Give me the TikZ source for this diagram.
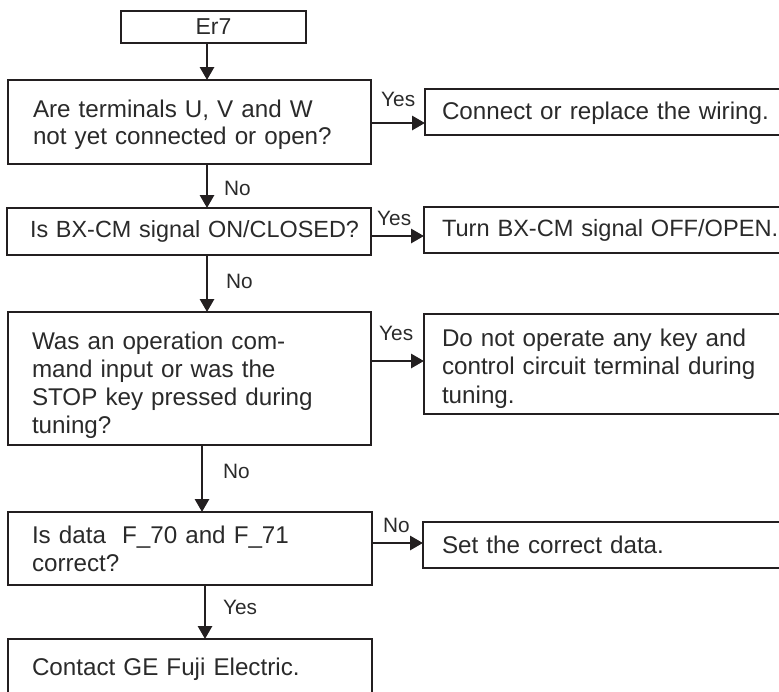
\documentclass[tikz,border=0pt]{standalone}
\usepackage{fontspec}
\setmainfont{Liberation Sans}
\usetikzlibrary{arrows.meta,calc}
\definecolor{lc}{HTML}{231F20}
\definecolor{tc}{HTML}{2A2A2A}
\tikzset{
  box/.style={draw=lc, line width=2.9pt, rectangle, anchor=north west, align=left,
    outer sep=0pt, inner ysep=0pt, text=tc, font=\fontsize{24.2pt}{27.8pt}\selectfont},
  arr/.style={draw=lc, line width=2.9pt, -{Triangle[length=13pt,width=14pt]}},
  lab/.style={anchor=base west, inner sep=0pt, text=tc, font=\fontsize{20.8pt}{24pt}\selectfont}
}
\begin{document}
\begin{tikzpicture}[x=1pt,y=-1pt]
\useasboundingbox (0,0) rectangle (779,691);
\clip (0,0) rectangle (779,691);
% main column
\node[box, minimum width=185pt, minimum height=32pt, align=center, inner xsep=0pt, text width=185pt,
  font=\fontsize{23pt}{27pt}\selectfont] (er) at (121,11) {Er7};
\node[box, minimum height=84pt, text width=313pt, inner xsep=25pt] (b1) at (8,80)
  {\rule{0pt}{23pt}Are terminals U, V and W\\not yet connected or open?};
\node[box, minimum height=47pt, text width=318pt, inner xsep=23pt,
  font=\fontsize{23.4pt}{27pt}\selectfont] (b2) at (7,208)
  {\mbox{Is BX-CM signal ON/CLOSED?}};
\node[box, minimum height=133pt, text width=315pt, inner xsep=24pt] (b3) at (8,312)
  {\rule{0pt}{31pt}Was an operation com-\\mand input or was the\\STOP key pressed during\\tuning?};
\node[box, minimum height=73pt, text width=316pt, inner xsep=24pt] (b4) at (8,512)
  {Is data\ \ F\_70 and F\_71\\correct?};
\node[box, minimum height=60pt, text width=316pt, inner xsep=24pt] (b5) at (8,639)
  {Contact GE Fuji Electric.};
% right column
\node[box, minimum height=46pt, text width=342pt, inner xsep=17pt] (r1) at (425,89)
  {\rule{0pt}{20pt}Connect or replace the wiring.};
\node[box, minimum height=46pt, text width=342pt, inner xsep=18pt,
  font=\fontsize{23.6pt}{27pt}\selectfont] (r2) at (424,207)
  {\mbox{Turn BX-CM signal OFF/OPEN.}};
\node[box, minimum height=100pt, text width=342pt, inner xsep=18pt,
  font=\fontsize{24.2pt}{28.6pt}\selectfont] (r3) at (424,314)
  {\rule{0pt}{27pt}Do not operate any key and\\control circuit terminal during\\tuning.};
\node[box, minimum height=46pt, text width=342pt, inner xsep=19pt] (r4) at (423,522)
  {Set the correct data.};
% connector guides
\coordinate (xa) at (207,0);
\coordinate (xb) at (202,0);
\coordinate (xc) at (205,0);
\coordinate (y1) at (0,123);
\coordinate (y2) at (0,236);
\coordinate (y3) at (0,361);
\coordinate (y4) at (0,543);
% vertical connectors
\draw[arr] (xa |- er.south) -- (xa |- b1.north);
\draw[arr] (xa |- b1.south) -- (xa |- b2.north);
\draw[arr] (xa |- b2.south) -- (xa |- b3.north);
\draw[arr] (xb |- b3.south) -- (xb |- b4.north);
\draw[arr] (xc |- b4.south) -- (xc |- b5.north);
% horizontal connectors
\draw[arr] (b1.east |- y1) -- (r1.west |- y1);
\draw[arr] (b2.east |- y2) -- (r2.west |- y2);
\draw[arr] (b3.east |- y3) -- (r3.west |- y3);
\draw[arr] (b4.east |- y4) -- (r4.west |- y4);
% labels
\node[lab] (l1) at (381,106) {Yes};
\node[lab] (l2) at (224,195) {No};
\node[lab] (l3) at (377,225) {Yes};
\node[lab] (l4) at (226,288) {No};
\node[lab] (l5) at (379,340) {Yes};
\node[lab] (l6) at (223,478) {No};
\node[lab] (l7) at (383,532) {No};
\node[lab] (l8) at (223,614) {Yes};
\end{tikzpicture}
\end{document}
